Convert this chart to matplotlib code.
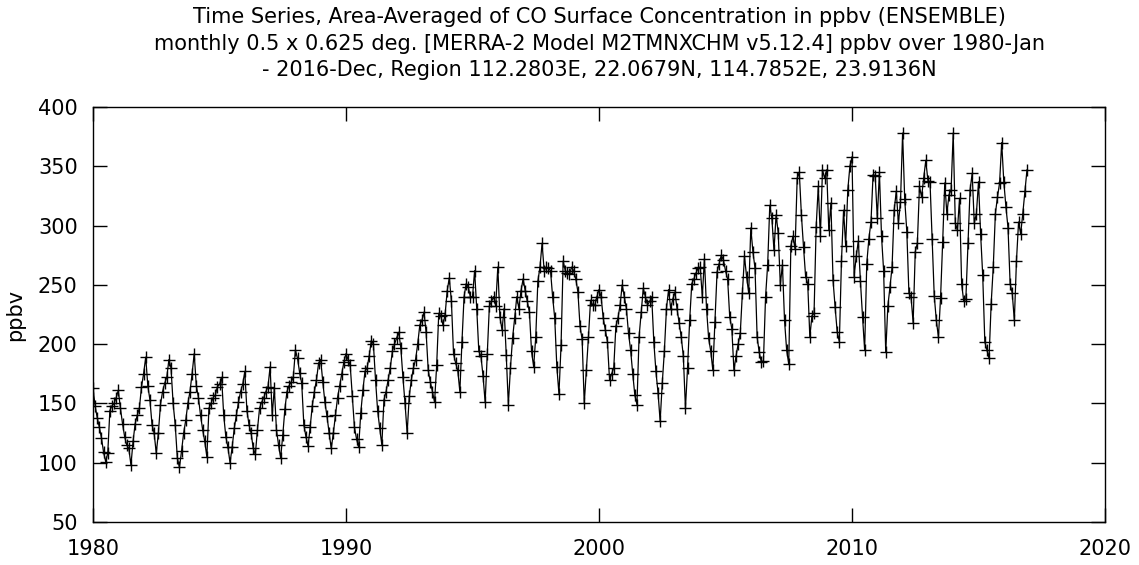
import numpy as np
import matplotlib
matplotlib.use("Agg")
import matplotlib.pyplot as plt

years = list(range(1980, 2017))
co_1980s = [
    [163, 148, 138, 130, 121, 109, 101, 108, 144, 148, 150, 155],  # 1980
    [161, 146, 133, 122, 115, 112, 98, 118, 133, 140, 146, 164],   # 1981
    [175, 189, 165, 153, 132, 125, 108, 125, 149, 160, 167, 172],  # 1982
    [187, 180, 150, 132, 104, 96, 110, 125, 136, 150, 160, 175],   # 1983
    [192, 165, 155, 140, 128, 118, 105, 146, 150, 155, 157, 164],  # 1984
    [166, 172, 140, 122, 113, 100, 113, 129, 140, 151, 160, 166],  # 1985
    [177, 144, 132, 125, 112, 107, 128, 146, 151, 155, 160, 164],  # 1986
    [181, 140, 163, 128, 115, 104, 123, 145, 160, 165, 168, 172],  # 1987
    [195, 188, 176, 167, 132, 122, 114, 130, 148, 160, 170, 184],  # 1988
    [187, 168, 151, 139, 125, 112, 125, 140, 155, 165, 175, 185],  # 1989
]
co_1990s = [
    [192, 187, 182, 156, 130, 120, 113, 142, 161, 177, 180, 190],  # 1990
    [203, 200, 170, 144, 129, 115, 153, 160, 170, 180, 194, 200],  # 1991
    [205, 210, 197, 172, 150, 125, 156, 170, 180, 187, 200, 216],  # 1992
    [220, 227, 210, 178, 168, 160, 151, 182, 226, 224, 216, 225],  # 1993
    [245, 256, 236, 192, 184, 178, 160, 202, 240, 251, 248, 240],  # 1994
    [240, 262, 230, 194, 190, 173, 151, 192, 232, 236, 240, 232],  # 1995
    [265, 223, 212, 230, 191, 149, 180, 205, 222, 240, 230, 245],  # 1996
    [255, 245, 236, 227, 194, 181, 206, 253, 265, 285, 262, 265],  # 1997
    [264, 262, 240, 222, 181, 158, 199, 270, 262, 260, 259, 265],  # 1998
    [262, 255, 244, 215, 204, 150, 178, 206, 237, 233, 233, 240],  # 1999
]
co_2000s = [
    [246, 240, 222, 212, 202, 170, 175, 180, 215, 222, 233, 250],  # 2000
    [240, 230, 209, 195, 175, 157, 149, 206, 227, 247, 240, 233],  # 2001
    [236, 240, 202, 177, 159, 135, 167, 194, 230, 246, 230, 238],  # 2002
    [244, 230, 218, 206, 190, 146, 180, 220, 251, 255, 260, 264],  # 2003
    [265, 240, 272, 230, 205, 194, 178, 219, 261, 268, 275, 271],  # 2004
    [262, 255, 223, 213, 178, 190, 200, 209, 243, 274, 257, 243],  # 2005
    [298, 278, 264, 206, 193, 185, 186, 240, 267, 317, 306, 279],  # 2006
    [309, 294, 250, 267, 220, 195, 183, 283, 291, 280, 340, 345],  # 2007
    [309, 282, 257, 251, 206, 224, 226, 299, 333, 291, 347, 340],  # 2008
    [347, 296, 319, 254, 231, 210, 202, 270, 313, 283, 330, 350],  # 2009
]
co_2010s = [
    [358, 257, 274, 287, 253, 223, 195, 268, 289, 303, 343, 342],  # 2010
    [306, 345, 291, 262, 193, 232, 248, 265, 313, 329, 302, 320],  # 2011
    [378, 322, 295, 243, 240, 218, 278, 285, 333, 324, 340, 355],  # 2012
    [338, 337, 289, 241, 220, 206, 239, 286, 336, 310, 326, 330],  # 2013
    [378, 302, 296, 323, 251, 236, 238, 285, 330, 344, 302, 310],  # 2014
    [337, 293, 258, 202, 195, 188, 234, 265, 310, 324, 336, 370],  # 2015
    [337, 316, 298, 251, 243, 220, 270, 303, 293, 310, 329, 347],  # 2016
]

x_ticks = [1980, 1990, 2000, 2010, 2020]
y_ticks = [50, 100, 150, 200, 250, 300, 350, 400]

title = ("Time Series, Area-Averaged of CO Surface Concentration in ppbv (ENSEMBLE)\n"
         "monthly 0.5 x 0.625 deg. [MERRA-2 Model M2TMNXCHM v5.12.4] ppbv over 1980-Jan\n"
         "- 2016-Dec, Region 112.2803E, 22.0679N, 114.7852E, 23.9136N")

values = np.concatenate([np.array(a, dtype=float).ravel()
                         for a in (co_1980s, co_1990s, co_2000s, co_2010s)])
t = years[0] + np.arange(len(values)) / 12.0

plt.rcParams['font.family'] = ['DejaVu Sans']
fig = plt.figure(figsize=(11.39, 5.65), dpi=100)
ax = fig.add_axes([93/1139, 43/565, (1105-93)/1139, (522-107)/565])

ax.plot(t, values, color='black', linewidth=0.9, marker='+', markersize=8,
        markeredgewidth=1.0)

ax.set_xlim(1980, 2020)
ax.set_ylim(50, 400)
ax.set_xticks(x_ticks)
ax.set_yticks(y_ticks)
ax.tick_params(direction='in', length=10, width=1, top=True, right=True,
               labelsize=15)
ax.tick_params(axis='x', pad=12)
ax.tick_params(axis='y', pad=11)
for s in ax.spines.values():
    s.set_linewidth(1)
ax.set_ylabel('ppbv', fontsize=15, labelpad=9)

fig.text(599/1139, 1 - 7/565, title, ha='center', va='top', fontsize=15,
         linespacing=1.42)

fig.savefig('out.png', dpi=100)
